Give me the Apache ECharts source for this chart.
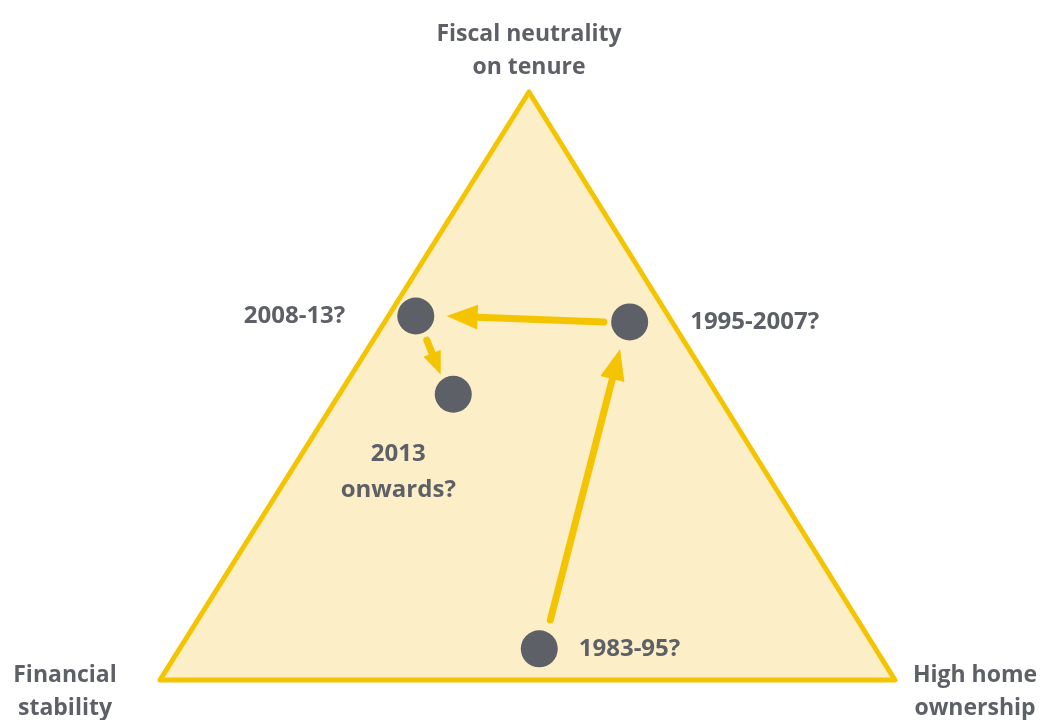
<!DOCTYPE html>
<html><head><meta charset="utf-8">
<script src="https://cdn.jsdelivr.net/npm/echarts@6/dist/echarts.min.js"></script>
<style>html,body{margin:0;padding:0;background:#fff}#c{width:1041px;height:720px}</style>
</head><body><div id="c"></div>
<script>
// Triangle corners (conceptual space, 0-100)
var cornerNames = ['Financial\nstability', 'Fiscal neutrality\non tenure', 'High home\nownership'];
var cornerX = [0, 50.2, 100];
var cornerY = [0, 100, 0];
// Policy periods
var periodNames = ['2008-13?', '2013\nonwards?', '1995-2007?', '1983-95?'];
var periodX = [34.8, 39.9, 63.9, 51.6];
var periodY = [61.9, 48.6, 60.9, 5.3];
// Arrows: start x, start y, tip x, tip y
var arrowFromX = [53.1, 60.4, 36.3];
var arrowFromY = [10.2, 60.9, 57.8];
var arrowToX = [62.6, 39.0, 38.2];
var arrowToY = [56.3, 61.9, 51.9];

var YEL = '#F5C400', FILL = '#FCEEC7', GREY = '#5E6068';
var FONT = 'Open Sans';

var chart = echarts.init(document.getElementById('c'), null, {renderer: 'canvas'});

var cornerData = cornerNames.map(function (n, i) { return {name: n, value: [cornerX[i], cornerY[i]]}; });
var periodData = periodNames.map(function (n, i) { return {name: n, value: [periodX[i], periodY[i]]}; });
var arrowData = arrowFromX.map(function (v, i) { return [v, arrowFromY[i], arrowToX[i], arrowToY[i]]; });

var cornerLabelPos = [
  {position: 'left', distance: 42, align: 'center', offset: [-53, 12]},
  {position: 'top', distance: 8},
  {position: 'right', distance: 16, align: 'center', offset: [64, 12]}
];
var periodLabelPos = [
  {position: 'left', distance: 52},
  {position: 'bottom', distance: 23, offset: [-55, 0]},
  {position: 'right', distance: 42},
  {position: 'right', distance: 21}
];
cornerData.forEach(function (d, i) {
  d.label = Object.assign({show: true, lineHeight: 33}, cornerLabelPos[i]);
});
periodData.forEach(function (d, i) {
  d.label = Object.assign({show: true, lineHeight: 36}, periodLabelPos[i]);
});

var labelStyle = {show: true, formatter: '{b}', color: GREY, fontFamily: FONT, fontWeight: 'bold', fontSize: 23};

chart.setOption({
  animation: false,
  grid: {left: 160, right: 146, top: 92, bottom: 40},
  xAxis: {type: 'value', min: 0, max: 100, show: false},
  yAxis: {type: 'value', min: 0, max: 100, show: false},
  series: [
    {
      type: 'custom',
      data: [0],
      z: 1,
      renderItem: function (params, api) {
        var pts = cornerX.map(function (x, i) { return api.coord([x, cornerY[i]]); });
        return {
          type: 'polygon',
          shape: {points: pts},
          style: {fill: FILL, stroke: YEL, lineWidth: 5, lineJoin: 'round'}
        };
      }
    },
    {
      type: 'custom',
      data: arrowData,
      z: 2,
      renderItem: function (params, api) {
        var a = api.coord([api.value(0), api.value(1)]);
        var b = api.coord([api.value(2), api.value(3)]);
        var dx = b[0] - a[0], dy = b[1] - a[1];
        var len = Math.sqrt(dx * dx + dy * dy);
        var ux = dx / len, uy = dy / len;
        var hl = Math.min(31, len * 0.62), hw = hl * 0.4;
        var bx = b[0] - ux * hl, by = b[1] - uy * hl;
        var sx = b[0] - ux * hl * 0.8, sy = b[1] - uy * hl * 0.8;
        return {
          type: 'group',
          children: [
            {type: 'line', shape: {x1: a[0], y1: a[1], x2: sx, y2: sy},
              style: {stroke: YEL, lineWidth: 7, lineCap: 'round'}},
            {type: 'polygon', shape: {points: [[b[0], b[1]], [bx - uy * hw, by + ux * hw], [bx + uy * hw, by - ux * hw]]},
              style: {fill: YEL}}
          ]
        };
      }
    },
    {
      type: 'scatter',
      data: periodData,
      z: 3,
      symbol: 'circle',
      symbolSize: 37,
      itemStyle: {color: GREY, opacity: 1},
      label: Object.assign({}, labelStyle, {fontSize: 24})
    },
    {
      type: 'scatter',
      data: cornerData,
      z: 3,
      symbolSize: 0,
      itemStyle: {color: 'transparent', opacity: 1},
      label: labelStyle
    }
  ]
});
</script></body></html>
